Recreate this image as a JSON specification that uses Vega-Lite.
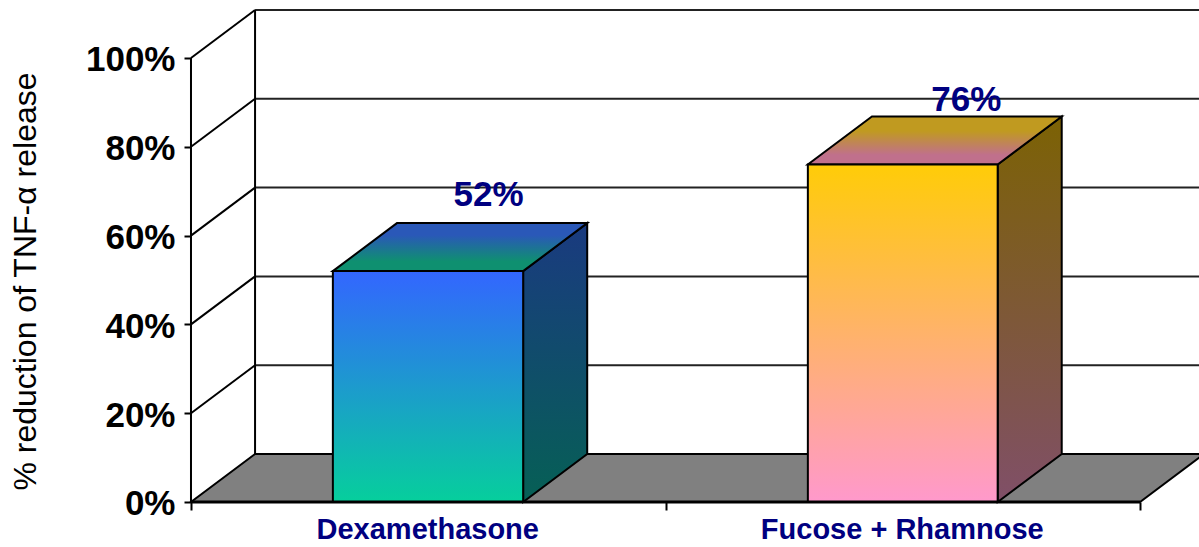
{
"$schema":"https://vega.github.io/schema/vega-lite/v6.json",
"width":1199,"height":547,"padding":0,"autosize":"none",
"background":"white",
"config":{"view":{"stroke":null},"font":"Liberation Sans"},
"datasets":{
"floor":[{"y":0,"x":0,"x2":2},{"y":10.81,"x":0.135,"x2":2.135}],
"grid":[
{"x":0.135,"x2":2.13,"y":30.81,"y2":30.81},{"x":0.135,"x2":2.13,"y":50.81,"y2":50.81},{"x":0.135,"x2":2.13,"y":70.81,"y2":70.81},{"x":0.135,"x2":2.13,"y":90.81,"y2":90.81},{"x":0.135,"x2":2.13,"y":110.81,"y2":110.81}],
"diag":[
{"x":0,"x2":0.135,"y":20,"y2":30.81},{"x":0,"x2":0.135,"y":40,"y2":50.81},{"x":0,"x2":0.135,"y":60,"y2":70.81},{"x":0,"x2":0.135,"y":80,"y2":90.81},{"x":0,"x2":0.135,"y":100,"y2":110.81}],
"frame":[
{"x":0,"x2":0,"y":0,"y2":100},{"x":0.135,"x2":0.135,"y":10.81,"y2":110.81}],
"base":[{"x":0,"x2":2,"y":0,"y2":0}],
"bars":[
{"treatment":"Dexamethasone","x":0.299,"x2":0.70,"y":52,"y2":0},
{"treatment":"Fucose + Rhamnose","x":1.30,"x2":1.70,"y":76,"y2":0}],
"sides":[
{"treatment":"Dexamethasone","x":0.70,"y":52,"y2":0},{"treatment":"Dexamethasone","x":0.835,"y":62.81,"y2":10.81},
{"treatment":"Fucose + Rhamnose","x":1.70,"y":76,"y2":0},{"treatment":"Fucose + Rhamnose","x":1.835,"y":86.81,"y2":10.81}],
"tops":[
{"treatment":"Dexamethasone","y":52,"x":0.299,"x2":0.70},{"treatment":"Dexamethasone","y":62.81,"x":0.434,"x2":0.835},
{"treatment":"Fucose + Rhamnose","y":76,"x":1.30,"x2":1.70},{"treatment":"Fucose + Rhamnose","y":86.81,"x":1.435,"x2":1.835}],
"labels":[{"x":0.627,"y":69.2,"label":"52%"},{"x":1.634,"y":90.6,"label":"76%"}]
},
"encoding":{
"x":{"field":"x","type":"quantitative","scale":{"domain":[-0.4025,2.1243],"nice":false,"zero":false},
 "axis":{"title":null,"grid":false,"domain":false,"offset":-45,"values":[0,0.5,1,1.5,2],
  "labelExpr":"datum.value==0.5?'Dexamethasone':datum.value==1.5?'Fucose + Rhamnose':''",
  "labelFont":"Liberation Sans","labelFontSize":29,"labelFontWeight":"bold","labelColor":"#000080","labelPadding":5,"labelOffset":-1,"labelOverlap":false,"labelFlush":false,"labelLimit":500,
  "tickSize":8,"tickWidth":2,"tickColor":"#000000","tickOpacity":{"condition":{"test":"datum.value==0.5||datum.value==1.5","value":0},"value":1}}},
"y":{"field":"y","type":"quantitative","scale":{"domain":[-10.135,113.06],"nice":false,"zero":false},
 "axis":{"title":"% reduction of TNF-α release","titleFont":"Liberation Sans","titleFontSize":32,"titleFontWeight":"normal","titleColor":"#000000","titleX":-166,"titleY":281,"titleAnchor":"middle","titleAngle":-90,"titleBaseline":"middle","titleLimit":600,
  "grid":false,"domain":false,"offset":-191,"values":[0,20,40,60,80,100],"format":".0f",
  "labelExpr":"datum.value+'%'","labelFont":"Liberation Sans","labelFontSize":35,"labelFontWeight":"bold","labelColor":"#000000","labelPadding":9,"labelOffset":2,"labelLimit":300,
  "tickSize":7,"tickWidth":2,"tickColor":"#000000"}}
},
"layer":[
{"data":{"name":"floor"},"mark":{"type":"area","orient":"horizontal","fill":"#808080","stroke":"#000000","strokeWidth":2,"clip":true},"encoding":{"x2":{"field":"x2"}}},
{"data":{"name":"grid"},"mark":{"type":"rule","color":"#222222","strokeWidth":2,"clip":true},"encoding":{"x2":{"field":"x2"},"y2":{"field":"y2"}}},
{"data":{"name":"diag"},"mark":{"type":"rule","color":"#000000","strokeWidth":2},"encoding":{"x2":{"field":"x2"},"y2":{"field":"y2"}}},
{"data":{"name":"frame"},"mark":{"type":"rule","color":"#000000","strokeWidth":2},"encoding":{"x2":{"field":"x2"},"y2":{"field":"y2"}}},
{"data":{"name":"sides"},"transform":[{"filter":"datum.treatment=='Dexamethasone'"}],"mark":{"type":"area","stroke":"#000000","strokeWidth":2,"fill":{"gradient":"linear","x1":0,"y1":0,"x2":0,"y2":1,"stops":[{"offset":0,"color":"#1a3a80"},{"offset":1,"color":"#066055"}]}},"encoding":{"y2":{"field":"y2"}}},
{"data":{"name":"sides"},"transform":[{"filter":"datum.treatment=='Fucose + Rhamnose'"}],"mark":{"type":"area","stroke":"#000000","strokeWidth":2,"fill":{"gradient":"linear","x1":0,"y1":0,"x2":0,"y2":1,"stops":[{"offset":0,"color":"#7c6204"},{"offset":1,"color":"#804f68"}]}},"encoding":{"y2":{"field":"y2"}}},
{"data":{"name":"tops"},"transform":[{"filter":"datum.treatment=='Dexamethasone'"}],"mark":{"type":"area","orient":"horizontal","stroke":"#000000","strokeWidth":2,"fill":{"gradient":"linear","x1":0,"y1":0,"x2":0,"y2":1,"stops":[{"offset":0,"color":"#2a58b8"},{"offset":0.25,"color":"#2a58b8"},{"offset":0.8,"color":"#0f9070"},{"offset":1,"color":"#0f9070"}]}},"encoding":{"x2":{"field":"x2"}}},
{"data":{"name":"tops"},"transform":[{"filter":"datum.treatment=='Fucose + Rhamnose'"}],"mark":{"type":"area","orient":"horizontal","stroke":"#000000","strokeWidth":2,"fill":{"gradient":"linear","x1":0,"y1":0,"x2":0,"y2":1,"stops":[{"offset":0,"color":"#c09a20"},{"offset":0.3,"color":"#c09a20"},{"offset":0.8,"color":"#c0708c"},{"offset":1,"color":"#c0708c"}]}},"encoding":{"x2":{"field":"x2"}}},
{"data":{"name":"bars"},"transform":[{"filter":"datum.treatment=='Dexamethasone'"}],"mark":{"type":"rect","stroke":"#000000","strokeWidth":2,"fill":{"gradient":"linear","x1":0,"y1":0,"x2":0,"y2":1,"stops":[{"offset":0,"color":"#3366ff"},{"offset":1,"color":"#06cf9c"}]}},"encoding":{"x2":{"field":"x2"},"y2":{"field":"y2"}}},
{"data":{"name":"bars"},"transform":[{"filter":"datum.treatment=='Fucose + Rhamnose'"}],"mark":{"type":"rect","stroke":"#000000","strokeWidth":2,"fill":{"gradient":"linear","x1":0,"y1":0,"x2":0,"y2":1,"stops":[{"offset":0,"color":"#ffcc08"},{"offset":1,"color":"#ff99cc"}]}},"encoding":{"x2":{"field":"x2"},"y2":{"field":"y2"}}},
{"data":{"name":"base"},"mark":{"type":"rule","color":"#000000","strokeWidth":3},"encoding":{"x2":{"field":"x2"},"y2":{"field":"y2"}}},
{"data":{"name":"labels"},"mark":{"type":"text","font":"Liberation Sans","fontSize":35,"fontWeight":"bold","color":"#000080","baseline":"middle","align":"center"},"encoding":{"text":{"field":"label"}}}
]
}
